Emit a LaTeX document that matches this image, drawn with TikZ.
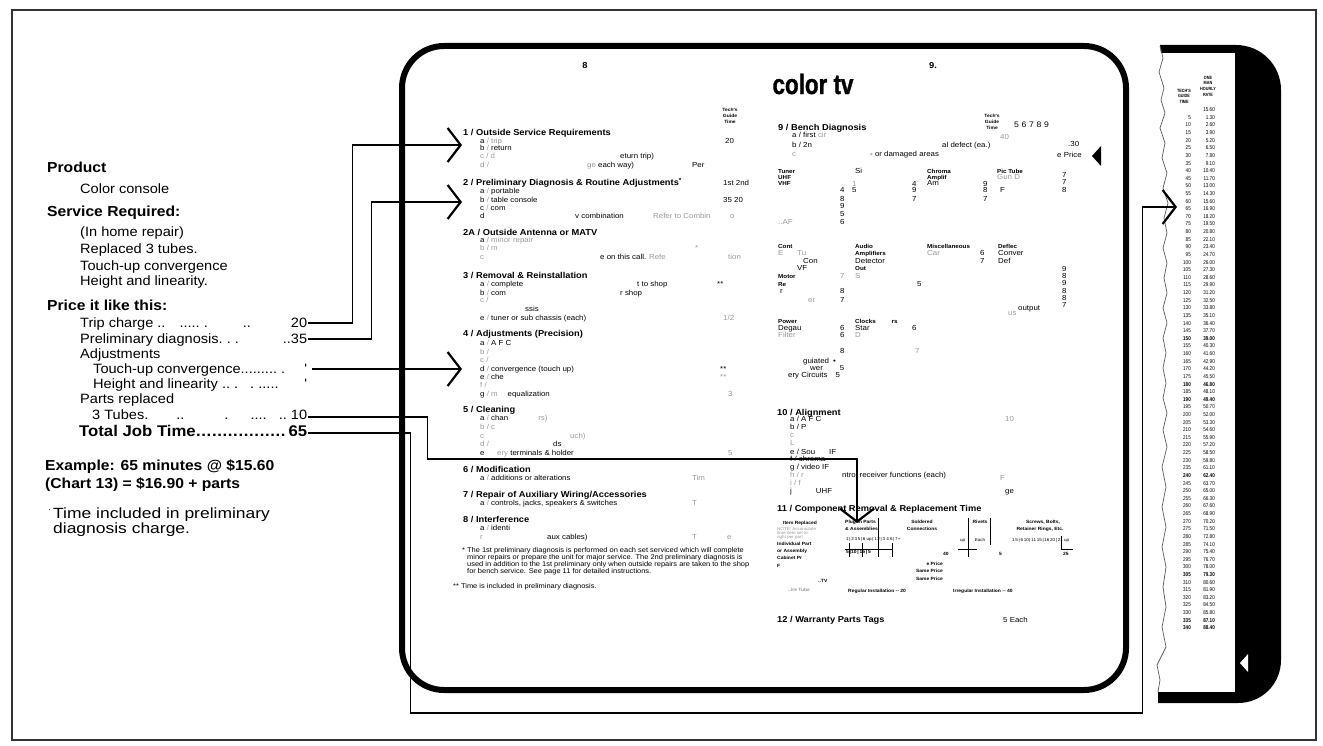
\documentclass[tikz,border=0pt]{standalone}
\usepackage{fontspec}
\setmainfont{Liberation Sans}
\newfontfamily\lf{Liberation Sans}[FakeStretch=1.08]
\newfontfamily\lfw{Liberation Sans}[FakeStretch=1.18]
\newfontfamily\cf{Liberation Sans}[FakeStretch=0.82]
\newfontfamily\tvf{Liberation Sans}[FakeStretch=0.8,FakeBold=1.2]
\usetikzlibrary{arrows.meta,calc}
\newcounter{tn}
\newcommand\TT[3][]{\stepcounter{tn}\node[ptx,#1] (p\arabic{tn}) at (#2) {#3};}
\begin{document}
\begin{tikzpicture}[x=1pt,y=-1pt,
  lt/.style={anchor=base west,inner sep=0pt,font=\lf\fontsize{13.5}{15}\selectfont},
  lb/.style={anchor=base west,inner sep=0pt,font=\lf\bfseries\fontsize{14.5}{16}\selectfont},
  lw/.style={anchor=base west,inner sep=0pt,font=\lfw\fontsize{14.8}{16}\selectfont},
  ptx/.style={anchor=base west,inner sep=0pt,font=\lf\fontsize{7.3}{8}\selectfont},
  phd/.style={font=\lf\bfseries\fontsize{8.6}{9}\selectfont},
  pgr/.style={text=black!40},
  pft/.style={font=\lf\fontsize{6.9}{7}\selectfont},
  ptn/.style={font=\lf\fontsize{4.2}{4.6}\selectfont},
  ptb/.style={font=\lf\bfseries\fontsize{4.6}{5.8}\selectfont},
  psb/.style={font=\lf\bfseries\fontsize{5.8}{6.5}\selectfont},
  colnum/.style={anchor=base east,inner sep=0pt,font=\cf\fontsize{5.6}{6}\selectfont},
  thin/.style={line width=0.6pt},
  conn/.style={line width=1.8pt,-{Straight Barb[length=13pt,width=34pt,line width=2.2pt]}}
]
\useasboundingbox (0,0) rectangle (1323,746);
\fill[white] (0,0) rectangle (1323,746);
\draw[line width=1.6pt,black!80] (12,10) rectangle (1316,740);

% ---------- left text ----------
\node[lb] (prod) at (47,173) {Product};
\node[lt] (cc) at (80,194) {Color console};
\node[lb] (sr) at (47,217) {Service Required:};
\node[lt] (ih) at (80,237) {(In home repair)};
\node[lt] (r3) at (80,254) {Replaced 3 tubes.};
\node[lt] (tu) at (80,271) {Touch-up convergence};
\node[lt] (hlin) at (80,286) {Height and linearity.};
\node[lb] (pl) at (47,310) {Price it like this:};
\node[lt] (r20) at (80,327) {\hbox to 227pt{Trip charge ..\hspace{14pt}.....~.\hfill..\hspace{40pt}20}};
\node[lt] (r35) at (80,343) {\hbox to 227pt{Preliminary diagnosis.~.~.\hfill..35}};
\node[lt] (adj) at (80,358) {Adjustments};
\node[lt] (rq1) at (93,373) {\hbox to 214pt{Touch-up convergence.........~.\hfill'}};
\node[lt] (rq2) at (93,388) {\hbox to 214pt{Height and linearity ..~.\hspace{12pt}.~.....\hfill'}};
\node[lt] (prep) at (80,403) {Parts replaced};
\node[lt] (r10) at (92,419) {\hbox to 215pt{3 Tubes.\hspace{28pt}..\hspace{40pt}.\hspace{22pt}....\hfill..\hspace{4pt}10}};
\node[lb,font=\lf\bfseries\fontsize{15.5}{17}\selectfont] (r65) at (79,436) {\hbox to 228pt{Total Job Time\leaders\hbox to 5.3pt{\hss.\hss}\hfill65}};
\node[lb] (ex1) at (45,470) {Example: 65 minutes @ \$15.60};
\node[lb] (ex2) at (45,488) {(Chart 13) = \$16.90 + parts};
\node[lt,font=\lf\fontsize{9}{9}\selectfont] (fnm) at (48,512) {·};
\node[lw] (fn1) at (53,518) {Time included in preliminary};
\node[lw] (fn2) at (53,533) {diagnosis charge.};

% ---------- TV screen ----------
\draw[line width=6pt,rounded corners=42pt] (402,46) rectangle (1126,690);

% ---------- page 8 ----------
\TT[phd,anchor=base]{585,69}{8}
\TT[ptb,anchor=center,align=center]{730,116}{Tech's\\Guide\\Time}
\TT[phd]{463,136}{1 / Outside Service Requirements}
\TT{480,144}{a \textcolor{black!40}{/ trip}}
\TT{725,144}{20}
\TT{480,151}{b \textcolor{black!40}{/} return}
\TT[pgr]{480,159}{c / d}
\TT{620,159}{eturn trip)}
\TT[pgr]{480,168}{d /}
\TT{587,168}{\textcolor{black!40}{ge} each way)}
\TT{692,168}{Per}
\TT[phd]{463,186}{2 / Preliminary Diagnosis \& Routine Adjustments\textsuperscript{*}}
\TT{723,186}{1st 2nd}
\TT{480,194}{a \textcolor{black!40}{/} portable}
\TT{480,203}{b \textcolor{black!40}{/} table console}
\TT{723,203}{35 20}
\TT{480,211}{c \textcolor{black!40}{/} com}
\TT{480,219}{d}
\TT{575,219}{v combination}
\TT[pgr]{653,219}{Refer to Combin}
\TT[pgr]{730,219}{o}
\TT[phd]{463,236}{2A / Outside Antenna or MATV}
\TT{480,243}{a \textcolor{black!40}{/ minor repair}}
\TT[pgr]{480,251}{b / m}
\TT[pgr]{695,251}{*}
\TT[pgr]{480,260}{c}
\TT{600,260}{e on this call. \textcolor{black!40}{Refe}}
\TT[pgr]{728,260}{tion}
\TT[phd]{463,279}{3 / Removal \& Reinstallation}
\TT{480,287}{a \textcolor{black!40}{/} complete}
\TT{637,287}{t to shop}
\TT{717,287}{**}
\TT{480,295}{b \textcolor{black!40}{/} com}
\TT{620,295}{r shop}
\TT[pgr]{480,302}{c /}
\TT{525,311}{ssis}
\TT{480,320}{e \textcolor{black!40}{/} tuner or sub chassis (each)}
\TT[pgr]{723,320}{1/2}
\TT[phd]{463,336}{4 / Adjustments (Precision)}
\TT{480,345}{a \textcolor{black!40}{/} A F C}
\TT[pgr]{480,354}{b /}
\TT[pgr]{480,362}{c /}
\TT{480,371}{d \textcolor{black!40}{/} convergence (touch up)}
\TT{720,371}{**}
\TT{480,379}{e \textcolor{black!40}{/} che}
\TT[pgr]{720,379}{**}
\TT[pgr]{480,387}{f /}
\TT{480,396}{g \textcolor{black!40}{/ m}\hspace{10pt}equalization}
\TT[pgr]{728,396}{3}
\TT[phd]{463,412}{5 / Cleaning}
\TT{480,420}{a \textcolor{black!40}{/} chan\hspace{30pt}\textcolor{black!40}{rs)}}
\TT[pgr]{480,429}{b / c}
\TT[pgr]{480,438}{c}
\TT[pgr]{570,438}{uch)}
\TT[pgr]{480,446}{d /}
\TT{553,446}{ds}
\TT{480,455}{e}
\TT{497,455}{\textcolor{black!40}{ery} terminals \& holder}
\TT[pgr]{728,455}{5}
\TT[phd]{463,472}{6 / Modification}
\TT{480,480}{a \textcolor{black!40}{/} additions or alterations}
\TT[pgr]{692,480}{Tim}
\TT[phd]{463,497}{7 / Repair of Auxiliary Wiring/Accessories}
\TT{480,505}{a \textcolor{black!40}{/} controls, jacks, speakers \& switches}
\TT[pgr]{692,505}{T}
\TT[phd]{463,522}{8 / Interference}
\TT{480,530}{a \textcolor{black!40}{/} identi}
\TT[pgr]{480,539}{r}
\TT{547,539}{aux cables)}
\TT[pgr]{692,539}{T}
\TT[pgr]{727,539}{e}
\TT[pft]{462,552}{* The 1st preliminary diagnosis is performed on each set serviced which will complete}
\TT[pft]{467,559}{minor repairs or prepare the unit for major service. The 2nd preliminary diagnosis is}
\TT[pft]{467,566}{used in addition to the 1st preliminary only when outside repairs are taken to the shop}
\TT[pft]{467,573}{for bench service. See page 11 for detailed instructions.}
\TT[pft]{453,588}{** Time is included in preliminary diagnosis.}

% ---------- page 9 ----------
\TT[phd,anchor=base]{933,69}{9.}
\node[anchor=center,inner sep=0pt,font=\tvf\bfseries\fontsize{28}{28}\selectfont] (ctv) at (813,84) {color tv};
\TT[phd]{778,131}{9 / Bench Diagnosis}
\TT{792,138}{a / first \textcolor{black!40}{cir}}
\TT{792,148}{b / 2n}
\TT{942,148}{al defect (ea.)}
\TT[pgr]{792,157}{c}
\TT{870,157}{- or damaged areas}
\TT[ptb,anchor=center,align=center]{992,122}{Tech's\\Guide\\Time}
\TT[font=\lf\fontsize{8}{9}\selectfont]{1014,128}{5\,\,6\,\,7\,\,8\,\,9}
\TT[pgr]{1000,140}{40}
\TT{1068,147}{.30}
\TT{1057,158}{e Price}
\fill (1092,156) -- (1101,146) -- (1101,166) -- cycle;
\TT[psb]{778,174}{Tuner}
\TT[psb]{778,180}{UHF}
\TT[psb]{778,186}{VHF}
\TT{855,174}{Si}
\TT[psb]{927,174}{Chroma}
\TT[psb]{927,180}{Amplif}
\TT{927,186}{Am}
\TT[psb]{997,174}{Pic Tube}
\TT[pgr]{997,180}{Gun D}
\TT{840,193}{4}\TT{840,202}{8}\TT{840,209}{9}\TT{840,217}{5}\TT{840,225}{6}
\TT[pgr]{852,187}{1}\TT{852,193}{5}
\TT{912,187}{4}\TT{912,193}{9}\TT{912,202}{7}
\TT{983,187}{9}\TT{983,193}{8}\TT{983,202}{7}
\TT{1000,193}{F}
\TT{1062,178}{7}\TT{1062,185}{7}\TT{1062,193}{8}
\TT[pgr]{778,225}{..AF}
\TT[psb]{778,248}{Cont}
\TT[pgr]{778,255}{E\hspace{14pt}Tu}
\TT{803,263}{Con}
\TT{797,271}{VF}
\TT[psb]{778,278}{Motor}
\TT[psb]{778,287}{Re}
\TT{780,293}{r}
\TT[pgr]{808,302}{er}
\TT[pgr]{840,278}{7}\TT{840,293}{8}\TT{840,302}{7}
\TT[psb]{855,248}{Audio}
\TT[psb]{855,255}{Amplifiers}
\TT{855,263}{Detector}
\TT[psb]{855,271}{Out}
\TT[pgr]{855,278}{S}
\TT{917,287}{5}
\TT[psb]{927,248}{Miscellaneous}
\TT[pgr]{927,255}{Car}
\TT{980,255}{6}\TT{980,263}{7}
\TT[psb]{998,248}{Deflec}
\TT{998,255}{Conver}
\TT{998,263}{Def}
\TT{1062,272}{9}\TT{1062,279}{8}\TT{1062,286}{9}\TT{1062,293}{8}\TT{1062,300}{8}\TT{1062,307}{7}
\TT{1018,310}{output}
\TT[pgr]{1008,315}{us}
\TT[psb]{778,323}{Power}
\TT{778,330}{Degau}
\TT[pgr]{778,337}{Filter}
\TT{840,330}{6}\TT{840,337}{6}
\TT[psb]{855,323}{Clocks\hspace{16pt}rs}
\TT{855,330}{Star}
\TT[pgr]{855,337}{D}
\TT{912,330}{6}
\TT{840,353}{8}\TT[pgr]{915,353}{7}
\TT{803,363}{guiated\hspace{4pt}\textbullet}
\TT{810,370}{wer\hspace{17pt}5}
\TT{788,377}{ery Circuits\hspace{8pt}5}
\TT[phd]{777,415}{10 / Alignment}
\TT{790,421}{a / A F C}
\TT[pgr]{1005,421}{10}
\TT{790,429}{b / P}
\TT[pgr]{790,437}{c}
\TT[pgr]{790,445}{L}
\TT{790,454}{e / Sou\hspace{14pt}IF}
\TT{790,461}{f / chroma}
\TT{790,469}{g / video IF}
\TT[pgr]{790,477}{h / r}
\TT{842,477}{ntrol receiver functions (each)}
\TT[pgr]{1000,480}{F}
\TT[pgr]{790,485}{i / f}
\TT{790,493}{j\hspace{24pt}UHF}
\TT{1005,493}{ge}
\TT[phd]{777,511}{11 / Component Removal \& Replacement Time}
\TT[ptb]{783,524}{Item Replaced}
\TT[ptn,pgr]{777,530}{NOTE: Accumulate}
\TT[ptn,pgr]{777,534}{time item set to}
\TT[ptn,pgr]{777,538}{right per part}
\TT[ptb]{777,545}{Individual Part}
\TT[ptb]{777,552}{or Assembly}
\TT[ptb]{777,559}{Cabinet Pr}
\TT[ptb]{777,567}{F}
\TT[ptb]{818,582}{..TV}
\TT[ptb,pgr]{788,591}{..ire Tube}
\TT[ptb]{845,523}{Plug-in Parts}
\TT[ptb]{845,530}{\& Assemblies}
\TT[ptn]{846,540}{1\,|\,2\,3\,5\,|\,6 up\,|\,1\,2\,|\,3 4 6\,|\,7+}
\TT[ptb]{846,553}{5\,|10\,|\,15\,|\,5}
\TT[ptb,anchor=base]{922,523}{Soldered}
\TT[ptb,anchor=base]{922,530}{Connections}
\TT[ptb,anchor=base east]{943,565}{e Price}
\TT[ptb,anchor=base east]{943,572}{Same Price}
\TT[ptb,anchor=base east]{943,580}{Same Price}
\TT[ptb]{848,592}{Regular Installation -- 20}
\TT[ptb]{953,592}{Irregular Installation -- 40}
\TT[ptb,anchor=base]{980,523}{Rivets}
\TT[ptn]{960,541}{up}
\TT[ptn,anchor=base]{980,541}{Each}
\TT[ptb]{943,555}{40}
\TT[ptb]{999,555}{5}
\TT[ptb,anchor=base]{1043,523}{Screws, Bolts,}
\TT[ptb,anchor=base]{1040,530}{Retainer Rings, Etc.}
\TT[ptn]{1012,541}{1\,5\,|\,6\,10\,|\,11\,15\,|\,16\,20\,|\,21 up}
\TT[ptb]{1063,555}{25}
\draw[thin] (878,518) -- (878,557);
\draw[thin] (845,549) -- (893,549);
\foreach \xx in {849,862,892} {\draw[thin] (\xx,543) -- (\xx,557);}
\draw[thin] (968,518) -- (968,557) (990,518) -- (990,545);
\draw[thin] (958,549) -- (977,549);
\draw[thin] (1061,536) -- (1061,549) -- (1073,549);
\TT[phd]{777,622}{12 / Warranty Parts Tags}
\TT{1003,622}{5 Each}

% ---------- right torn page ----------
\fill (1160,45) -- (1236,45) .. controls (1261,45) and (1281,65) .. (1281,90)
  -- (1281,660) .. controls (1281,684) and (1262,703) .. (1238,703)
  -- (1158,703) -- (1158,692) -- (1235,692) -- (1235,53) -- (1161,53) -- cycle;
\fill[white] (1240,663) -- (1248,654) -- (1248,672) -- cycle;
\draw[black!65,line width=0.7pt] plot coordinates {(1160,46) (1163,58) (1159,72) (1164,88) (1161,100) (1165,113) (1160,128) (1165,143) (1162,158) (1167,173) (1163,188) (1168,203) (1164,218) (1167,233) (1163,248) (1167,263) (1164,278) (1167,293) (1163,308) (1167,323) (1163,338) (1166,353) (1163,368) (1166,383) (1163,398) (1167,413) (1163,430) (1167,447) (1162,467) (1166,487) (1162,507) (1166,527) (1162,547) (1166,567) (1163,587) (1166,607) (1162,627) (1166,647) (1157,665) (1160,680) (1158,692)};
\node[inner sep=0pt,align=center,font=\cf\bfseries\fontsize{4.6}{5.6}\selectfont] (hdt) at (1184,96) {TECH'S\\GUIDE\\TIME};
\node[inner sep=0pt,align=center,font=\cf\bfseries\fontsize{4.6}{5.6}\selectfont] (hdr) at (1208,86) {ONE\\MAN\\HOURLY\\RATE};
\node[colnum] (cr0) at (1215,112) {15.60};
\foreach \i in {1,...,68} {
  \pgfmathtruncatemacro\m{5*\i}
  \pgfmathsetmacro\yy{119.3+(\i-1)*7.62}
  \pgfmathtruncatemacro\cc{130*\i}
  \pgfmathtruncatemacro\dd{div(\cc,100)}
  \pgfmathtruncatemacro\ce{mod(\cc,100)}
  \pgfmathtruncatemacro\isb{(\i==30)||(\i==36)||(\i==38)||(\i==48)||(\i==61)||(\i==67)||(\i==68)}
  \ifnum\isb=1 \def\fw{\bfseries}\else\def\fw{}\fi
  \node[colnum] (cm\i) at (1191,\yy) {\fw\m};
  \node[colnum] (cr\i) at (1215,\yy) {\fw\dd.\ifnum\ce<10 0\fi\ce};
}

% ---------- connectors ----------
\coordinate (t1) at (462,145);
\coordinate (t2) at (462,202);
\coordinate (t3) at (462,369);
\coordinate (t4) at (857,523);
\coordinate (t5) at (1177,207);
\draw[conn] ($(r20.base east)+(1,-4)$) -- ++(44,0) |- (t1);
\draw[conn] ($(r35.base east)+(1,-4)$) -- ++(63,0) |- (t2);
\draw[conn] ($(rq1.base east)+(5,-4)$) -- (t3);
\draw[conn] ($(r10.base east)+(1,-2)$) -- ++(119,0) -- ++(0,42) -| (t4);
\draw[conn] ($(r65.base east)+(1,-3)$) -- ++(102,0) -- ++(0,280) -- ++(732,0) |- (t5);
\end{tikzpicture}
\end{document}
